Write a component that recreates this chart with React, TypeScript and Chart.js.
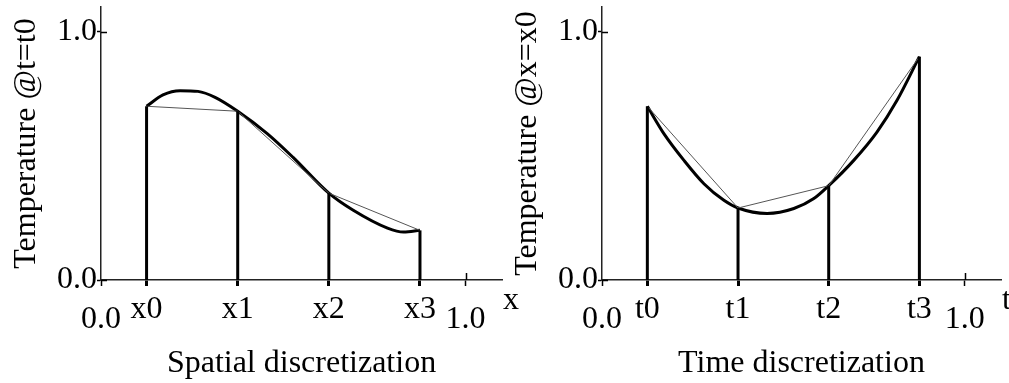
import React, { useEffect, useRef } from "react";
import { Chart, registerables } from "chart.js";

Chart.register(...registerables);

const FONT_FAMILY = "'Liberation Serif', 'Times New Roman', serif";
const FONT_SIZE = 32;

// node positions along the axis (shared by both panels)
const nodePositions = [0.125, 0.375, 0.625, 0.875];

// left panel: spatial discretization
const spatialNodeLabels = ["x0", "x1", "x2", "x3"];
const spatialNodeValues = [0.7, 0.68, 0.35, 0.2];
const spatialCurveX = [0.125, 0.17, 0.217, 0.266, 0.313, 0.375, 0.456, 0.527, 0.625, 0.692, 0.786, 0.83, 0.875];
const spatialCurveY = [0.7, 0.746, 0.763, 0.76, 0.736, 0.68, 0.59, 0.494, 0.35, 0.281, 0.209, 0.193, 0.2];

// right panel: time discretization
const timeNodeLabels = ["t0", "t1", "t2", "t3"];
const timeNodeValues = [0.7, 0.29, 0.38, 0.9];
const timeCurveX = [0.125, 0.171, 0.226, 0.281, 0.336, 0.375, 0.455, 0.529, 0.584, 0.625, 0.694, 0.758, 0.813, 0.875];
const timeCurveY = [0.7, 0.589, 0.482, 0.388, 0.321, 0.29, 0.268, 0.288, 0.328, 0.38, 0.482, 0.596, 0.723, 0.9];

// axis ticks
const yTickValues = [0, 1];
const yTickLabels = ["0.0", "1.0"];
const endTickValues = [0, 1];
const endTickLabels = ["0.0", "1.0"];
const axisMin = 0;
const axisMax = 1.1;

type PanelProps = {
  left: number;
  width: number;
  yScaleWidth: number;
  padRight: number;
  yTitlePad: number;
  nodeLabels: string[];
  nodeValues: number[];
  curveX: number[];
  curveY: number[];
  axisLetter: string;
  xTitle: string;
  yTitle: string;
};

function Panel(props: PanelProps) {
  const ref = useRef<HTMLCanvasElement | null>(null);
  useEffect(() => {
    if (!ref.current) return;
    const font = { family: FONT_FAMILY, size: FONT_SIZE };
    const xTickValues = [endTickValues[0], ...nodePositions, endTickValues[1]];
    const extras = {
      id: "extras",
      afterDraw(chart: any) {
        const { ctx, chartArea } = chart;
        const xs = chart.scales.x;
        const ys = chart.scales.y;
        ctx.save();
        ctx.strokeStyle = "#000";
        ctx.lineWidth = 1.5;
        ctx.beginPath();
        yTickValues.forEach((v) => {
          const py = Math.round(ys.getPixelForValue(v)) + 0.5;
          ctx.moveTo(chartArea.left, py);
          ctx.lineTo(chartArea.left + 6, py);
        });
        const p1 = Math.round(xs.getPixelForValue(endTickValues[1])) + 0.5;
        ctx.moveTo(p1, chartArea.bottom - 7);
        ctx.lineTo(p1, chartArea.bottom);
        ctx.stroke();
        ctx.fillStyle = "#000";
        ctx.font = `${FONT_SIZE}px ${FONT_FAMILY}`;
        ctx.textAlign = "center";
        ctx.textBaseline = "alphabetic";
        endTickValues.forEach((v, i) => {
          ctx.fillText(endTickLabels[i], xs.getPixelForValue(v), chartArea.bottom + 48);
        });
        ctx.textAlign = "left";
        ctx.fillText(props.axisLetter, chartArea.right + 1, chartArea.bottom + 29);
        ctx.restore();
      },
    };
    const datasets: any[] = [
      ...nodePositions.map((p, i) => ({
        data: [
          { x: p, y: 0 },
          { x: p, y: props.nodeValues[i] },
        ],
        borderColor: "#000",
        borderWidth: 3,
        pointRadius: 0,
        tension: 0,
        borderCapStyle: "butt",
      })),
      {
        data: nodePositions.map((p, i) => ({ x: p, y: props.nodeValues[i] })),
        borderColor: "#555",
        borderWidth: 1,
        pointRadius: 0,
        tension: 0,
      },
      {
        data: props.curveX.map((cx, i) => ({ x: cx, y: props.curveY[i] })),
        borderColor: "#000",
        borderWidth: 3,
        pointRadius: 0,
        cubicInterpolationMode: "monotone",
        borderJoinStyle: "round",
      },
    ];
    const chart = new Chart(ref.current, {
      type: "line",
      data: { datasets },
      options: {
        responsive: false,
        animation: false,
        layout: { padding: { left: 0, right: props.padRight, top: 7, bottom: 0 } },
        plugins: { legend: { display: false }, tooltip: { enabled: false } },
        scales: {
          x: {
            type: "linear",
            min: axisMin,
            max: axisMax,
            afterBuildTicks: (s: any) => {
              s.ticks = xTickValues.map((v) => ({ value: v }));
            },
            afterFit: (s: any) => {
              s.height = 103;
              s.paddingLeft = 0;
              s.paddingRight = 0;
              s.paddingTop = 0;
              s.paddingBottom = 0;
            },
            ticks: {
              autoSkip: false,
              maxRotation: 0,
              padding: 4,
              color: "#000",
              font,
              callback: (v: any) => {
                const idx = nodePositions.indexOf(Number(v));
                return idx >= 0 ? props.nodeLabels[idx] : "";
              },
            },
            grid: {
              display: true,
              drawOnChartArea: false,
              drawTicks: true,
              tickLength: 6,
              tickColor: "#000",
              tickWidth: (c: any) => (nodePositions.indexOf(c.tick?.value) >= 0 ? 3 : 1.5),
            },
            border: { display: true, color: "#222", width: 1.5 },
            title: {
              display: true,
              text: props.xTitle,
              color: "#000",
              font,
              padding: { top: 0, bottom: 0 },
            },
          },
          y: {
            type: "linear",
            min: axisMin,
            max: axisMax,
            afterBuildTicks: (s: any) => {
              s.ticks = yTickValues.map((v) => ({ value: v }));
            },
            afterFit: (s: any) => {
              s.width = props.yScaleWidth;
              s.paddingLeft = 0;
              s.paddingRight = 0;
              s.paddingTop = 0;
              s.paddingBottom = 0;
            },
            ticks: {
              padding: 0,
              color: "#000",
              font,
              callback: (v: any) => {
                const idx = yTickValues.indexOf(Number(v));
                return idx >= 0 ? yTickLabels[idx] : "";
              },
            },
            grid: {
              display: true,
              drawOnChartArea: false,
              drawTicks: true,
              tickLength: 4,
              tickColor: "#000",
              tickWidth: 1.5,
            },
            border: { display: true, color: "#222", width: 1.5 },
            title: {
              display: true,
              text: props.yTitle,
              color: "#000",
              font,
              padding: { top: props.yTitlePad, bottom: 0 },
            },
          },
        },
      } as any,
      plugins: [extras],
    });
    return () => chart.destroy();
  }, []);
  return (
    <canvas
      ref={ref}
      width={props.width}
      height={383}
      style={{ position: "absolute", left: props.left, top: 0, width: props.width, height: 383 }}
    />
  );
}

export default function App() {
  return (
    <div style={{ position: "absolute", left: 0, top: 0, width: 1009, height: 383, background: "#fff", overflow: "hidden" }}>
      <Panel
        left={0}
        width={530}
        yScaleWidth={101}
        padRight={28}
        yTitlePad={7}
        nodeLabels={spatialNodeLabels}
        nodeValues={spatialNodeValues}
        curveX={spatialCurveX}
        curveY={spatialCurveY}
        axisLetter="x"
        xTitle="Spatial discretization"
        yTitle="Temperature @t=t0"
      />
      <Panel
        left={504}
        width={505}
        yScaleWidth={98}
        padRight={8}
        yTitlePad={4}
        nodeLabels={timeNodeLabels}
        nodeValues={timeNodeValues}
        curveX={timeCurveX}
        curveY={timeCurveY}
        axisLetter="t"
        xTitle="Time discretization"
        yTitle="Temperature @x=x0"
      />
    </div>
  );
}
